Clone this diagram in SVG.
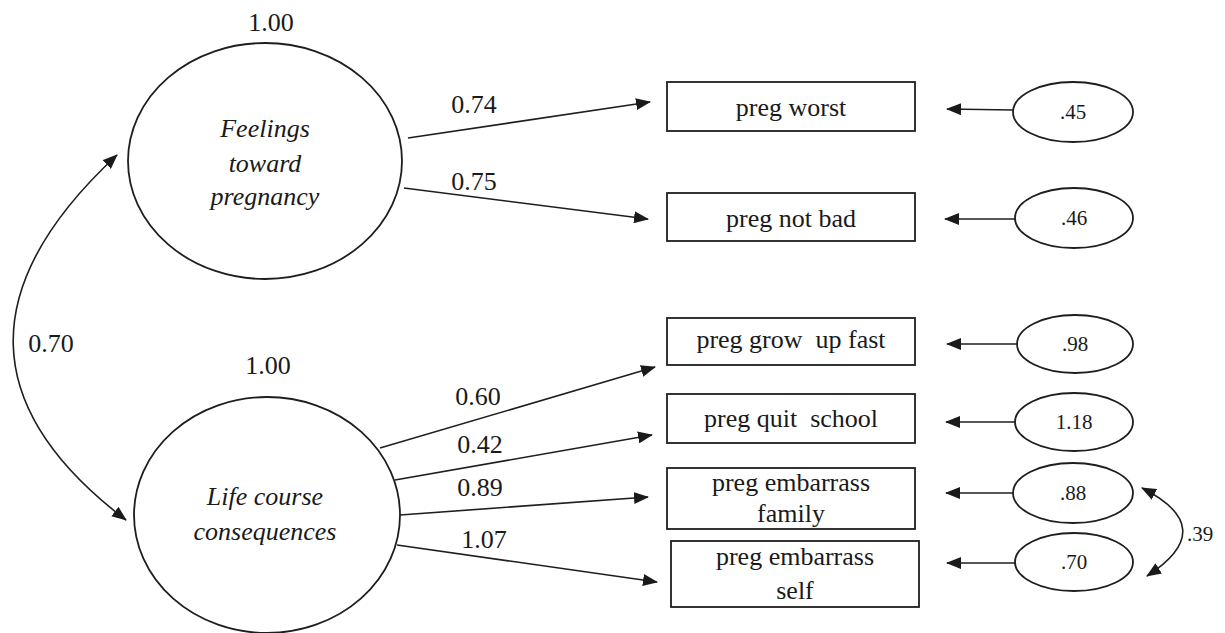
<svg xmlns="http://www.w3.org/2000/svg" width="1225" height="633" viewBox="0 0 1225 633">
<style>
  .bg { fill: #ffffff; }
  .shape { fill: #ffffff; stroke: #1e1e1e; stroke-width: 1.8; }
  .conn { fill: none; stroke: #1e1e1e; stroke-width: 1.6; }
  .t { font-size: 26px; fill: #1a1a1a; text-anchor: middle; }
  .it { font-style: italic; }
  .sm { font-size: 21px; }
</style>
<defs>
  <marker id="ah" markerUnits="userSpaceOnUse" markerWidth="15" markerHeight="12" viewBox="0 0 15 12" refX="14" refY="6" orient="auto-start-reverse">
    <path d="M0,0 L15,6 L0,12 z" fill="#1a1a1a"/>
  </marker>
</defs>
<rect class="bg" x="0" y="0" width="1225" height="633"/>

<g id="connectors" font-family="Liberation Serif">
  <path class="conn" d="M117,155 Q-95,352 126,520" marker-start="url(#ah)" marker-end="url(#ah)"/>
  <line class="conn" x1="408" y1="138" x2="650" y2="102" marker-end="url(#ah)"/>
  <line class="conn" x1="404" y1="188" x2="648" y2="219" marker-end="url(#ah)"/>
  <line class="conn" x1="380" y1="448" x2="655" y2="367" marker-end="url(#ah)"/>
  <line class="conn" x1="395" y1="480" x2="652" y2="435" marker-end="url(#ah)"/>
  <line class="conn" x1="400" y1="515" x2="648" y2="497" marker-end="url(#ah)"/>
  <line class="conn" x1="397" y1="545" x2="657" y2="582" marker-end="url(#ah)"/>
  <line class="conn" x1="1013" y1="110" x2="947" y2="109" marker-end="url(#ah)"/>
  <line class="conn" x1="1015" y1="219" x2="945" y2="219" marker-end="url(#ah)"/>
  <line class="conn" x1="1017" y1="344" x2="947" y2="344" marker-end="url(#ah)"/>
  <line class="conn" x1="1015" y1="422" x2="946" y2="422" marker-end="url(#ah)"/>
  <line class="conn" x1="1013" y1="493" x2="946" y2="493" marker-end="url(#ah)"/>
  <line class="conn" x1="1015" y1="563" x2="947" y2="563" marker-end="url(#ah)"/>
  <path class="conn" d="M1142,488 Q1221,528 1147,576" marker-start="url(#ah)" marker-end="url(#ah)"/>
  <text class="t" font-family="Liberation Serif" x="51" y="352">0.70</text>
  <text class="t" font-family="Liberation Serif" x="474" y="113">0.74</text>
  <text class="t" font-family="Liberation Serif" x="474" y="190">0.75</text>
  <text class="t" font-family="Liberation Serif" x="478" y="405">0.60</text>
  <text class="t" font-family="Liberation Serif" x="480" y="453">0.42</text>
  <text class="t" font-family="Liberation Serif" x="480" y="496">0.89</text>
  <text class="t" font-family="Liberation Serif" x="484" y="548">1.07</text>
  <text class="t sm" font-family="Liberation Serif" x="1200" y="541">.39</text>
</g>

<g id="feelings" font-family="Liberation Serif">
  <ellipse class="shape" cx="265" cy="161" rx="137" ry="118"/>
  <text class="t" font-family="Liberation Serif" x="271" y="31">1.00</text>
  <text class="t it" font-family="Liberation Serif" x="265" y="137">Feelings</text>
  <text class="t it" font-family="Liberation Serif" x="265" y="172">toward</text>
  <text class="t it" font-family="Liberation Serif" x="265" y="205">pregnancy</text>
</g>

<g id="lifecourse" font-family="Liberation Serif">
  <ellipse class="shape" cx="267" cy="515" rx="133" ry="118"/>
  <text class="t" font-family="Liberation Serif" x="268" y="374">1.00</text>
  <text class="t it" font-family="Liberation Serif" x="265" y="505">Life course</text>
  <text class="t it" font-family="Liberation Serif" x="265" y="540">consequences</text>
</g>

<g id="preg-worst" font-family="Liberation Serif">
  <rect class="shape" x="667" y="82" width="248" height="49"/>
  <text class="t" font-family="Liberation Serif" x="791" y="116">preg worst</text>
</g>
<g id="preg-not-bad" font-family="Liberation Serif">
  <rect class="shape" x="667" y="193" width="248" height="48"/>
  <text class="t" font-family="Liberation Serif" x="791" y="227">preg not bad</text>
</g>
<g id="preg-grow-up-fast" font-family="Liberation Serif">
  <rect class="shape" x="667" y="318" width="248" height="47"/>
  <text class="t" font-family="Liberation Serif" x="791" y="348" xml:space="preserve">preg grow  up fast</text>
</g>
<g id="preg-quit-school" font-family="Liberation Serif">
  <rect class="shape" x="667" y="394" width="248" height="49"/>
  <text class="t" font-family="Liberation Serif" x="791" y="427" xml:space="preserve">preg quit  school</text>
</g>
<g id="preg-embarrass-family" font-family="Liberation Serif">
  <rect class="shape" x="667" y="468" width="248" height="61"/>
  <text class="t" font-family="Liberation Serif" x="791" y="491">preg embarrass</text>
  <text class="t" font-family="Liberation Serif" x="791" y="522">family</text>
</g>
<g id="preg-embarrass-self" font-family="Liberation Serif">
  <rect class="shape" x="671" y="541" width="248" height="66"/>
  <text class="t" font-family="Liberation Serif" x="795" y="565">preg embarrass</text>
  <text class="t" font-family="Liberation Serif" x="795" y="599">self</text>
</g>

<g id="e1" font-family="Liberation Serif">
  <ellipse class="shape" cx="1073" cy="112" rx="60" ry="30"/>
  <text class="t sm" font-family="Liberation Serif" x="1073" y="119">.45</text>
</g>
<g id="e2" font-family="Liberation Serif">
  <ellipse class="shape" cx="1074" cy="218" rx="59" ry="30"/>
  <text class="t sm" font-family="Liberation Serif" x="1074" y="225">.46</text>
</g>
<g id="e3" font-family="Liberation Serif">
  <ellipse class="shape" cx="1075" cy="344" rx="58" ry="29"/>
  <text class="t sm" font-family="Liberation Serif" x="1075" y="351">.98</text>
</g>
<g id="e4" font-family="Liberation Serif">
  <ellipse class="shape" cx="1074" cy="422" rx="59" ry="29"/>
  <text class="t sm" font-family="Liberation Serif" x="1074" y="429">1.18</text>
</g>
<g id="e5" font-family="Liberation Serif">
  <ellipse class="shape" cx="1073" cy="493" rx="60" ry="30"/>
  <text class="t sm" font-family="Liberation Serif" x="1073" y="500">.88</text>
</g>
<g id="e6" font-family="Liberation Serif">
  <ellipse class="shape" cx="1074" cy="562" rx="59" ry="29"/>
  <text class="t sm" font-family="Liberation Serif" x="1074" y="569">.70</text>
</g>
</svg>
